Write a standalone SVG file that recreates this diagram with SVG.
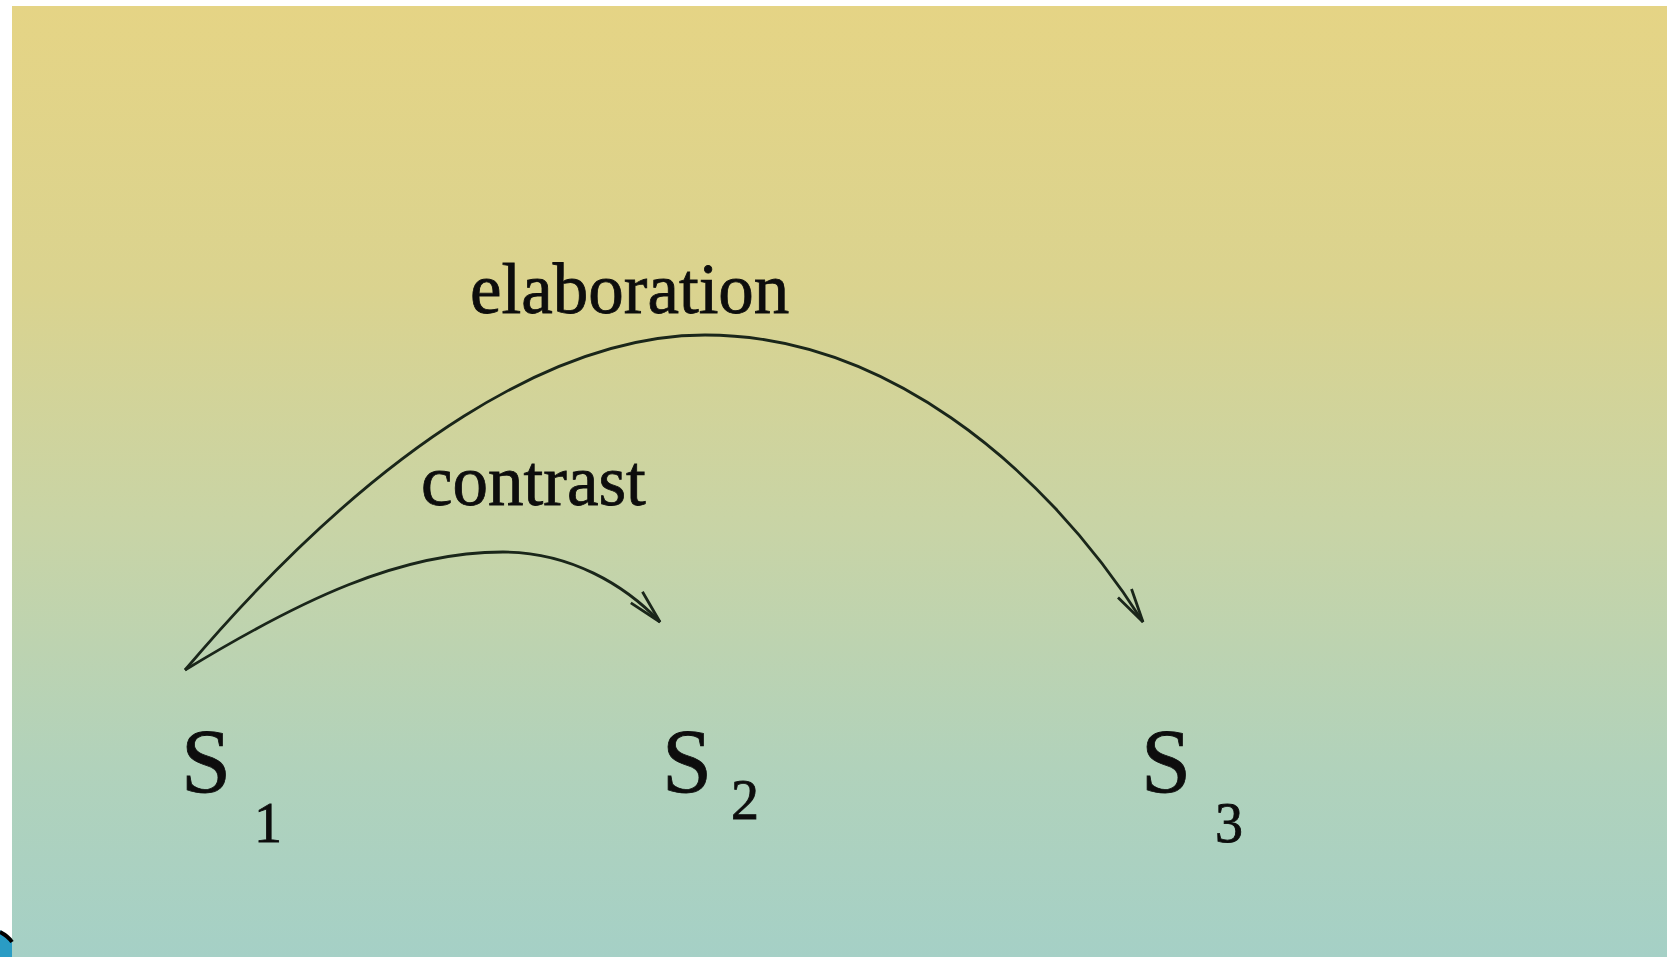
<svg xmlns="http://www.w3.org/2000/svg" width="1667" height="957" viewBox="0 0 1667 957">
  <defs>
    <linearGradient id="bg" x1="0" y1="0" x2="0" y2="1">
      <stop offset="0" stop-color="#E5D485"/>
      <stop offset="0.3" stop-color="#DAD38F"/>
      <stop offset="0.55" stop-color="#C8D4A6"/>
      <stop offset="0.8" stop-color="#B1D2BB"/>
      <stop offset="1" stop-color="#A5D0C6"/>
    </linearGradient>
    <marker id="arrow" markerUnits="userSpaceOnUse" markerWidth="40" markerHeight="30" refX="0" refY="0" viewBox="-36 -15 40 30" orient="auto">
      <path d="M-34,-8 L0,0 L-34,8" fill="none" stroke="#1a261a" stroke-width="2.8"/>
    </marker>
    <style>
      .lbl { font-family: "Liberation Serif", "Times New Roman", serif; fill: #0d0d0d; stroke: #0d0d0d; stroke-width: 0.8; }
      .big { font-size: 90px; }
      .sub { font-size: 56px; }
      .rel { font-size: 71px; }
      .edge { fill: none; stroke: #1a261a; stroke-width: 2.8; }
    </style>
  </defs>
  <rect x="0" y="0" width="1667" height="957" fill="#ffffff"/>
  <rect x="12" y="6" width="1655" height="951" fill="url(#bg)"/>
  <path d="M0,930 Q8,934 12,942 L12,957 L0,957 Z" fill="#2a9cc4"/>
  <path d="M0,932 Q8,936 12,942" fill="none" stroke="#000" stroke-width="4"/>

  <g id="connectors">
    <path class="edge" d="M185,670 C380,440 560,335 705,335 C880,335 1040,460 1143,622" marker-end="url(#arrow)"/>
    <path class="edge" d="M185,670 C300,600 400,552 503,552 C570,552 625,585 660,622" marker-end="url(#arrow)"/>
    <text class="lbl rel" x="470" y="313">elaboration</text>
    <text class="lbl rel" x="421" y="505">contrast</text>
  </g>

  <g id="s1">
    <text class="lbl big" x="181" y="792">S</text>
    <text class="lbl sub" x="254" y="842">1</text>
  </g>
  <g id="s2">
    <text class="lbl big" x="662" y="792">S</text>
    <text class="lbl sub" x="731" y="819">2</text>
  </g>
  <g id="s3">
    <text class="lbl big" x="1141" y="792">S</text>
    <text class="lbl sub" x="1215" y="842">3</text>
  </g>
</svg>
